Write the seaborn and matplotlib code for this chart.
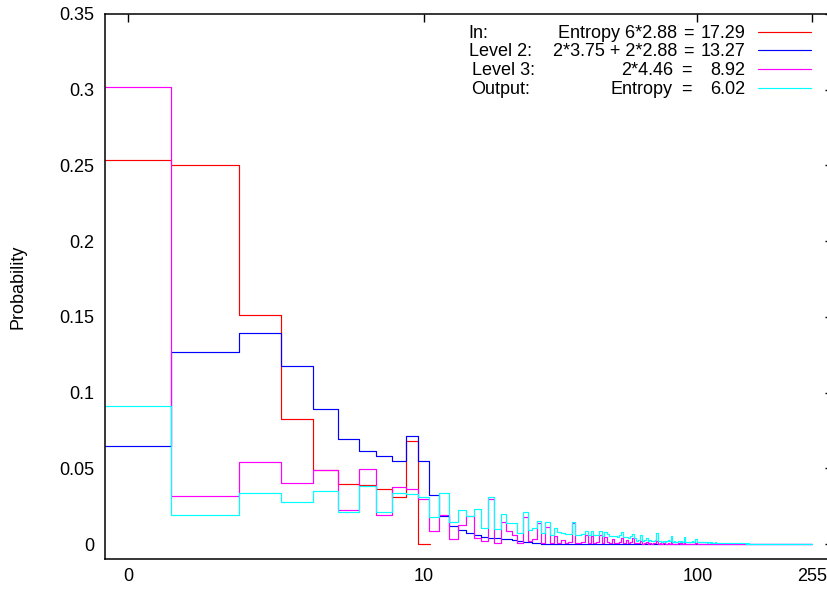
import numpy as np
import pandas as pd
import matplotlib
matplotlib.use("Agg")
import matplotlib.pyplot as plt
import seaborn as sns
from matplotlib.lines import Line2D

# ---------------- data (probability per value 0..N) ----------------
in_red = [0.2536, 0.2505, 0.1510, 0.0826, 0.0490, 0.0396, 0.0390, 0.0360, 0.0310, 0.0680, 0.0]

level2_blue = [
    0.0647, 0.1270, 0.1396, 0.1173, 0.0890, 0.0696, 0.0612, 0.0579, 0.0546, 0.0713, 0.0548, 0.0324, 0.0187, 0.0117, 0.0090, 0.0075,
    0.0057, 0.0044, 0.0042, 0.0040, 0.0035, 0.0030, 0.0025, 0.0020, 0.0015, 0.0010, 0.0008, 0.0005, 0.0003, 0.0002, 0.0001, 0,
    0, 0, 0, 0, 0, 0, 0, 0, 0, 0, 0, 0, 0, 0, 0, 0,
    0, 0, 0, 0, 0, 0, 0, 0, 0, 0, 0, 0, 0, 0, 0, 0,
    0, 0, 0, 0, 0, 0, 0, 0, 0, 0, 0, 0, 0, 0, 0, 0,
    0, 0, 0, 0, 0, 0, 0, 0, 0, 0, 0, 0, 0, 0, 0, 0,
    0, 0, 0, 0, 0, 0, 0, 0, 0, 0, 0, 0, 0, 0, 0, 0,
    0, 0, 0, 0, 0, 0, 0, 0, 0, 0, 0, 0, 0, 0, 0, 0,
    0, 0, 0, 0, 0, 0, 0, 0, 0, 0, 0, 0, 0, 0, 0, 0,
    0, 0, 0, 0, 0, 0, 0, 0, 0, 0, 0, 0, 0, 0, 0, 0,
    0, 0, 0, 0, 0, 0, 0, 0, 0, 0, 0, 0, 0, 0, 0, 0,
    0, 0, 0, 0, 0, 0, 0, 0, 0, 0, 0, 0, 0, 0, 0, 0,
    0, 0, 0, 0, 0, 0, 0, 0, 0, 0, 0, 0, 0, 0, 0, 0,
    0, 0, 0, 0, 0, 0, 0, 0, 0, 0, 0, 0, 0, 0, 0, 0,
    0, 0, 0, 0, 0, 0, 0, 0, 0, 0, 0, 0, 0, 0, 0, 0,
    0, 0, 0, 0, 0, 0, 0, 0, 0, 0, 0, 0, 0, 0, 0, 0,
]

level3_magenta = [
    0.3016, 0.0317, 0.0540, 0.0400, 0.0490, 0.0225, 0.0493, 0.0192, 0.0379, 0.0361, 0.0295, 0.0084, 0.0190, 0.0031, 0.0125, 0.0185,
    0.0038, 0.0020, 0.0300, 0.0005, 0.0147, 0.0088, 0.0060, 0.0005, 0.0176, 0.0022, 0.0030, 0.0137, 0.0005, 0.0114, 0.0005, 0.0053,
    0.0005, 0.0026, 0.0008, 0.0010, 0.0138, 0.0008, 0.0006, 0.0010, 0.0059, 0.0008, 0.0050, 0.0006, 0.0010, 0.0059, 0.0006, 0.0045,
    0.0015, 0.0005, 0.0030, 0.0006, 0.0008, 0.0015, 0.0042, 0.0006, 0.0025, 0.0005, 0.0010, 0.0042, 0.0005, 0.0004, 0.0005, 0.0018,
    0.0003, 0.0005, 0.0012, 0.0003, 0.0006, 0.0003, 0.0004, 0.0005, 0.0020, 0.0003, 0.0004, 0.0002, 0.0005, 0.0002, 0.0003, 0.0005,
    0.0003, 0.0015, 0.0002, 0.0003, 0.0002, 0.0003, 0.0004, 0.0002, 0.0004, 0.0002, 0.0012, 0.0002, 0.0002, 0.0002, 0.0003, 0.0002,
    0.0003, 0.0001, 0.0002, 0.0008, 0.0001, 0.0002, 0.0001, 0.0001, 0.0002, 0.0001, 0.0001, 0.0001, 0.0001, 0.0001, 0.0001, 0.0001,
    0.0001, 0.0001, 0.0001, 0.0001, 0.0001, 0.0001, 0.0001, 0.0001, 0, 0, 0, 0, 0, 0, 0, 0,
    0, 0, 0, 0, 0, 0, 0, 0, 0, 0, 0, 0, 0, 0, 0, 0,
    0, 0, 0, 0, 0, 0, 0, 0, 0, 0, 0, 0, 0, 0, 0, 0,
    0, 0, 0, 0, 0, 0, 0, 0, 0, 0, 0, 0, 0, 0, 0, 0,
    0, 0, 0, 0, 0, 0, 0, 0, 0, 0, 0, 0, 0, 0, 0, 0,
    0, 0, 0, 0, 0, 0, 0, 0, 0, 0, 0, 0, 0, 0, 0, 0,
    0, 0, 0, 0, 0, 0, 0, 0, 0, 0, 0, 0, 0, 0, 0, 0,
    0, 0, 0, 0, 0, 0, 0, 0, 0, 0, 0, 0, 0, 0, 0, 0,
    0, 0, 0, 0, 0, 0, 0, 0, 0, 0, 0, 0, 0, 0, 0, 0,
]

output_cyan = [
    0.0911, 0.0192, 0.0339, 0.0277, 0.0352, 0.0213, 0.0383, 0.0209, 0.0335, 0.0328, 0.0308, 0.0176, 0.0335, 0.0145, 0.0225, 0.0185,
    0.0229, 0.0106, 0.0308, 0.0097, 0.0200, 0.0140, 0.0140, 0.0075, 0.0213, 0.0092, 0.0103, 0.0154, 0.0075, 0.0147, 0.0060, 0.0103,
    0.0081, 0.0070, 0.0064, 0.0064, 0.0147, 0.0060, 0.0058, 0.0066, 0.0088, 0.0062, 0.0088, 0.0058, 0.0060, 0.0088, 0.0055, 0.0078,
    0.0066, 0.0050, 0.0055, 0.0050, 0.0048, 0.0060, 0.0078, 0.0045, 0.0048, 0.0042, 0.0050, 0.0066, 0.0040, 0.0022, 0.0025, 0.0060,
    0.0020, 0.0025, 0.0040, 0.0020, 0.0028, 0.0018, 0.0020, 0.0025, 0.0070, 0.0018, 0.0020, 0.0016, 0.0022, 0.0015, 0.0018, 0.0025,
    0.0020, 0.0050, 0.0015, 0.0018, 0.0014, 0.0016, 0.0020, 0.0014, 0.0022, 0.0015, 0.0045, 0.0012, 0.0014, 0.0012, 0.0015, 0.0012,
    0.0018, 0.0012, 0.0014, 0.0030, 0.0012, 0.0010, 0.0012, 0.0010, 0.0011, 0.0010, 0.0012, 0.0010, 0.0012, 0.0009, 0.0010, 0.0008,
    0.0011, 0.0008, 0.0009, 0.0007, 0.0010, 0.0007, 0.0008, 0.0007, 0.0009, 0.0006, 0.0008, 0.0006, 0.0007, 0.0006, 0.0008, 0.0006,
    0.0006, 0.0005, 0.0007, 0.0005, 0.0006, 0.0005, 0.0006, 0.0005, 0.0006, 0.0005, 0.0005, 0.0004, 0.0005, 0.0004, 0.0005, 0.0004,
    0.0005, 0.0004, 0.0004, 0.0004, 0.0004, 0.0003, 0.0004, 0.0003, 0.0004, 0.0003, 0.0003, 0.0003, 0.0003, 0.0003, 0.0003, 0.0002,
    0.0003, 0.0002, 0.0003, 0.0002, 0.0002, 0.0002, 0.0002, 0.0002, 0.0002, 0.0002, 0.0002, 0.0001, 0.0002, 0.0001, 0.0001, 0.0001,
    0.0001, 0.0001, 0.0001, 0.0001, 0.0002, 0.0001, 0.0001, 0.0001, 0.0001, 0.0001, 0.0001, 0.0001, 0.0002, 0.0001, 0.0001, 0.0001,
    0.0001, 0.0001, 0.0001, 0, 0.0001, 0, 0.0001, 0, 0, 0.0001, 0, 0, 0, 0, 0, 0,
    0, 0, 0, 0, 0, 0, 0, 0, 0, 0, 0, 0, 0, 0, 0, 0,
    0, 0, 0, 0, 0, 0, 0, 0, 0, 0, 0, 0, 0, 0, 0, 0,
    0, 0, 0, 0, 0, 0, 0, 0, 0, 0, 0, 0, 0, 0, 0, 0,
]

series_names = ["In", "Level 2", "Level 3", "Output"]
series_values = [in_red, level2_blue, level3_magenta, output_cyan]
series_colors = ["#ff0000", "#0000ff", "#ff00ff", "#00ffff"]

legend_left = ["In:", "Level 2:", "Level 3:", "Output:"]
legend_expr = ["Entropy 6*2.88", "2*3.75 + 2*2.88", "2*4.46", "Entropy"]
legend_value = ["17.29", "13.27", "8.92", "6.02"]

x_ticks = [0, 10, 100, 255]
x_ticklabels = ["0", "10", "100", "255"]
y_ticks = [0, 0.05, 0.1, 0.15, 0.2, 0.25, 0.3, 0.35]
y_ticklabels = ["0", "0.05", "0.1", "0.15", "0.2", "0.25", "0.3", "0.35"]


# ---------------- x scale: log10(x + 1) ----------------
def fwd(x):
    x = np.asarray(x, dtype=float)
    return np.log10(np.clip(x + 1.0, 1e-9, None))


def inv(t):
    return np.power(10.0, np.asarray(t, dtype=float)) - 1.0


def histeps(values):
    """gnuplot 'histeps': step edges halfway between points in scaled space."""
    v = np.asarray(values, dtype=float)
    t = fwd(np.arange(len(v)))
    mids = (t[:-1] + t[1:]) / 2
    edges_t = np.concatenate([[t[0] - (t[1] - t[0]) / 2], mids,
                              [t[-1] + (t[-1] - t[-2]) / 2]])
    return inv(edges_t), np.append(v, v[-1])


frames = []
for name, vals in zip(series_names, series_values):
    ex, ey = histeps(vals)
    frames.append(pd.DataFrame({"x": ex, "p": ey, "series": name}))
df = pd.concat(frames, ignore_index=True)

# ---------------- style ----------------
sns.set_theme(style="white", rc={
    "axes.edgecolor": "black", "text.color": "black", "axes.labelcolor": "black",
    "xtick.color": "black", "ytick.color": "black",
})
plt.rcParams["font.family"] = ["Liberation Sans", "DejaVu Sans"]
FS = 13

W, H = 827, 590
fig = plt.figure(figsize=(W / 100, H / 100), dpi=100)
ax = fig.add_axes([105 / W, 31 / H, 728 / W, 545 / H])
ax.set_xscale("function", functions=(fwd, inv))

sns.lineplot(data=df, x="x", y="p", hue="series", hue_order=series_names,
             palette=series_colors, drawstyle="steps-post", estimator=None,
             sort=False, linewidth=0.85, legend=False, ax=ax)

ax.set_xscale("function", functions=(fwd, inv))
ax.set_xlim(inv(-0.081), inv(2.482))
ax.set_ylim(-0.0099, 0.35)

ax.set_xticks(x_ticks)
ax.set_xticklabels(x_ticklabels)
ax.set_yticks(y_ticks)
ax.set_yticklabels(y_ticklabels)
ax.minorticks_off()
ax.tick_params(axis="both", direction="in", length=5.8, width=1.0,
               top=True, right=True, labelsize=FS)
ax.tick_params(axis="x", pad=6.5)
ax.tick_params(axis="y", pad=8)
for s in ax.spines.values():
    s.set_linewidth(1.1)
    s.set_color("black")

ax.set_xlabel("")
ax.set_ylabel("Probability", fontsize=FS)
ax.yaxis.set_label_coords((27 - 105) / 728, 0.5)

# ---------------- gnuplot-style key ----------------
left_x = [468, 469, 472, 471]
expr_end = [677, 677, 673, 672]
eq_start = [683, 683, 681, 681]
baselines = [37.7, 56.0, 75.0, 94.0]
line_y = [31.7, 50.0, 69.0, 87.7]
for i in range(4):
    yb = 1 - baselines[i] / H
    fig.text(left_x[i] / W, yb, legend_left[i], ha="left", va="baseline", fontsize=FS)
    fig.text(expr_end[i] / W, yb, legend_expr[i], ha="right", va="baseline", fontsize=FS)
    fig.text(eq_start[i] / W, yb, "=", ha="left", va="baseline", fontsize=FS)
    fig.text(745 / W, yb, legend_value[i], ha="right", va="baseline", fontsize=FS)
    yl = 1 - line_y[i] / H
    fig.add_artist(Line2D([758 / W, 811 / W], [yl, yl], transform=fig.transFigure,
                          color=series_colors[i], linewidth=0.85))

fig.savefig("out.png", dpi=100)
